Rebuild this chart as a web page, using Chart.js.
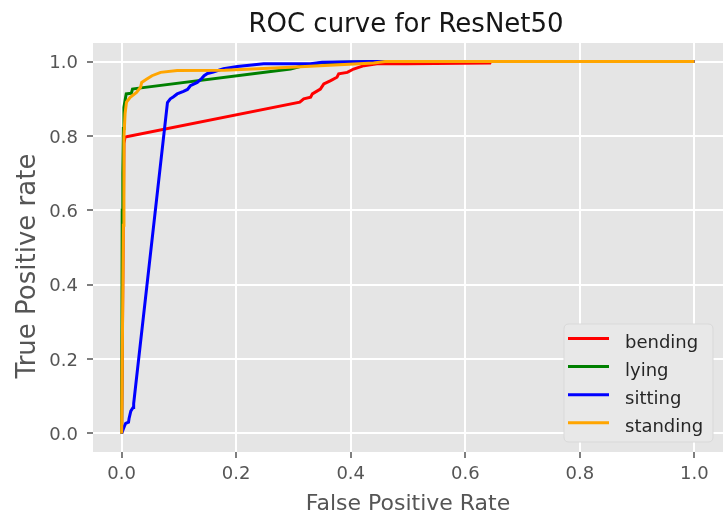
<!DOCTYPE html>
<html>
<head>
<meta charset="utf-8">
<script src="https://cdn.jsdelivr.net/npm/chart.js@4/dist/chart.umd.min.js"></script>
<style>
  html, body { margin: 0; padding: 0; background: #ffffff; }
  #wrap { width: 723px; height: 522px; }
</style>
</head>
<body>
<div id="wrap"><canvas id="roc" width="723" height="522"></canvas></div>
<script>
// ROC curves per activity class (false positive rate vs true positive rate)
const classNames = ['bending', 'lying', 'sitting', 'standing'];
const classColors = ['#ff0000', '#008000', '#0000ff', '#ffa500'];

const bendingFpr = [0, 0.004, 0.006, 0.311, 0.318, 0.330, 0.333, 0.347, 0.353, 0.365, 0.376, 0.379, 0.394, 0.405, 0.423, 0.446, 0.498, 0.643, 0.644, 1.0];
const bendingTpr = [0, 0.780, 0.797, 0.891, 0.900, 0.904, 0.913, 0.926, 0.940, 0.949, 0.958, 0.967, 0.971, 0.980, 0.989, 0.994, 0.994, 0.996, 1.0, 1.0];

const lyingFpr = [0, 0.001, 0.002, 0.003, 0.004, 0.007, 0.008, 0.017, 0.019, 0.027, 0.295, 0.320, 0.350, 0.440, 1.0];
const lyingTpr = [0, 0.600, 0.700, 0.820, 0.877, 0.905, 0.913, 0.915, 0.926, 0.928, 0.980, 0.990, 0.997, 1.0, 1.0];

const sittingFpr = [0, 0.005, 0.007, 0.012, 0.013, 0.016, 0.020, 0.021, 0.080, 0.085, 0.090, 0.097, 0.108, 0.115, 0.120, 0.132, 0.140, 0.144, 0.150, 0.160, 0.178, 0.202, 0.248, 0.330, 0.350, 0.440, 1.0];
const sittingTpr = [0, 0.020, 0.027, 0.030, 0.040, 0.060, 0.070, 0.080, 0.890, 0.900, 0.905, 0.913, 0.920, 0.925, 0.935, 0.944, 0.955, 0.962, 0.968, 0.972, 0.981, 0.987, 0.994, 0.994, 0.998, 1.0, 1.0];

const standingFpr = [0, 0.003, 0.004, 0.006, 0.0085, 0.015, 0.026, 0.033, 0.035, 0.044, 0.053, 0.068, 0.097, 0.180, 0.295, 0.440, 0.460, 1.0];
const standingTpr = [0, 0.560, 0.797, 0.860, 0.891, 0.904, 0.917, 0.931, 0.944, 0.953, 0.962, 0.971, 0.976, 0.977, 0.985, 0.996, 1.0, 1.0];

const axisTicks = [0, 0.2, 0.4, 0.6, 0.8, 1.0];

const chartTitle = 'ROC curve for ResNet50';
const xTitle = 'False Positive Rate';
const yTitle = 'True Positive rate';

const FONT = "'DejaVu Sans', sans-serif";

function toPoints(xs, ys) {
  return xs.map((x, i) => ({ x: x, y: ys[i] }));
}

const curves = [
  [bendingFpr, bendingTpr],
  [lyingFpr, lyingTpr],
  [sittingFpr, sittingTpr],
  [standingFpr, standingTpr]
];

const datasets = curves.map((c, i) => ({
  label: classNames[i],
  data: toPoints(c[0], c[1]),
  borderColor: classColors[i],
  backgroundColor: classColors[i],
  borderWidth: 3,
  showLine: true,
  fill: false,
  tension: 0,
  pointRadius: 0,
  pointHoverRadius: 0,
  order: curves.length - i
}));

// panel background, titles and the boxed legend
const decorPlugin = {
  id: 'decor',
  beforeDraw(chart) {
    const { ctx, chartArea: a } = chart;
    ctx.save();
    ctx.fillStyle = '#ffffff';
    ctx.fillRect(0, 0, chart.width, chart.height);
    ctx.fillStyle = '#e5e5e5';
    ctx.fillRect(a.left, a.top, a.right - a.left, a.bottom - a.top);
    ctx.restore();
  },
  afterDraw(chart) {
    const { ctx, chartArea: a } = chart;
    const cx = (a.left + a.right) / 2;
    ctx.save();

    // title
    ctx.fillStyle = '#161616';
    ctx.font = '26px ' + FONT;
    ctx.textAlign = 'center';
    ctx.textBaseline = 'alphabetic';
    ctx.fillText(chartTitle, cx - 2, 32);

    // x axis title
    ctx.fillStyle = '#555555';
    ctx.font = '22px ' + FONT;
    ctx.fillText(xTitle, cx, 510);

    // y axis title
    ctx.save();
    ctx.translate(35, 266);
    ctx.rotate(-Math.PI / 2);
    ctx.font = '26px ' + FONT;
    ctx.fillText(yTitle, 0, 0);
    ctx.restore();

    // legend box
    const bx = 564, by = 324, bw = 149, bh = 118, r = 5;
    ctx.beginPath();
    ctx.moveTo(bx + r, by);
    ctx.lineTo(bx + bw - r, by);
    ctx.quadraticCurveTo(bx + bw, by, bx + bw, by + r);
    ctx.lineTo(bx + bw, by + bh - r);
    ctx.quadraticCurveTo(bx + bw, by + bh, bx + bw - r, by + bh);
    ctx.lineTo(bx + r, by + bh);
    ctx.quadraticCurveTo(bx, by + bh, bx, by + bh - r);
    ctx.lineTo(bx, by + r);
    ctx.quadraticCurveTo(bx, by, bx + r, by);
    ctx.closePath();
    ctx.fillStyle = '#e8e8e8';
    ctx.fill();
    ctx.strokeStyle = '#d9d9d9';
    ctx.lineWidth = 1;
    ctx.stroke();

    ctx.font = '18px ' + FONT;
    ctx.textAlign = 'left';
    chart.data.datasets.forEach((ds, i) => {
      const ly = 338.5 + i * 28.1;
      ctx.strokeStyle = ds.borderColor;
      ctx.lineWidth = 3;
      ctx.beginPath();
      ctx.moveTo(568, ly);
      ctx.lineTo(609, ly);
      ctx.stroke();
      ctx.fillStyle = '#262626';
      ctx.fillText(ds.label, 625, ly + 9.5);
    });
    ctx.restore();
  }
};

function fixedTicks(scale) {
  scale.ticks = axisTicks.map(v => ({ value: v }));
}

const tickFont = { family: FONT, size: 18 };

new Chart(document.getElementById('roc'), {
  type: 'scatter',
  data: { datasets: datasets },
  options: {
    responsive: false,
    animation: false,
    devicePixelRatio: 1,
    layout: { padding: { top: 43, right: 0, left: 0, bottom: 0 } },
    plugins: {
      legend: { display: false },
      title: { display: false },
      tooltip: { enabled: false }
    },
    scales: {
      x: {
        type: 'linear',
        min: -0.05,
        max: 1.05,
        afterBuildTicks: fixedTicks,
        afterFit(scale) { scale.height = 70; },
        border: { display: false },
        grid: {
          color: '#ffffff',
          lineWidth: 2,
          drawTicks: true,
          tickLength: 6,
          tickColor: '#555555',
          tickWidth: 1.5
        },
        ticks: {
          font: tickFont,
          color: '#555555',
          padding: 6,
          maxRotation: 0,
          autoSkip: false,
          callback: v => Number(v).toFixed(1)
        }
      },
      y: {
        type: 'linear',
        min: -0.05,
        max: 1.05,
        afterBuildTicks: fixedTicks,
        afterFit(scale) { scale.width = 93; },
        border: { display: false },
        grid: {
          color: '#ffffff',
          lineWidth: 2,
          drawTicks: true,
          tickLength: 6,
          tickColor: '#555555',
          tickWidth: 1.5
        },
        ticks: {
          font: tickFont,
          color: '#555555',
          padding: 9,
          labelOffset: 2,
          autoSkip: false,
          callback: v => Number(v).toFixed(1)
        }
      }
    }
  },
  plugins: [decorPlugin]
});
</script>
</body>
</html>
